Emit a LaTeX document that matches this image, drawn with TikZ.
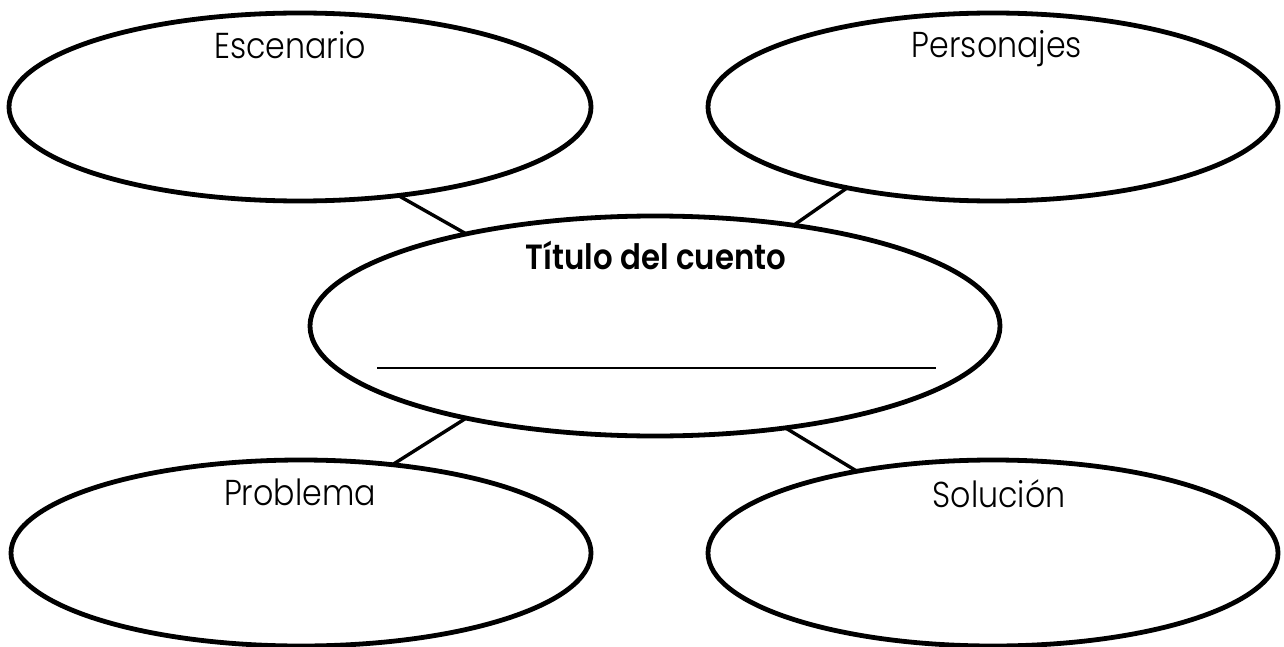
\documentclass[tikz,border=0pt]{standalone}
\usepackage{fontspec}
\IfFontExistsTF{Poppins Light}
  {\IfFontExistsTF{Poppins SemiBold}
     {\setmainfont{Poppins Light}[BoldFont={Poppins SemiBold}]}
     {\setmainfont{Poppins Light}[BoldFont={Poppins Medium}]}}
  {\setmainfont{Poppins}}
\usetikzlibrary{shapes.geometric}
\newcommand\hsq[1]{\scalebox{0.88}[1]{#1}}
\tikzset{
  bubble/.style={draw=black, line width=2.4pt, ellipse, inner sep=0pt, outer sep=0pt},
  link/.style={draw=black, line width=1.7pt},
  lbl/.style={font=\fontsize{18}{20}\selectfont, inner sep=0pt, anchor=base},
  ttl/.style={font=\bfseries\fontsize{17.5}{19}\selectfont, inner sep=0pt, anchor=base},
}
\begin{document}
\begin{tikzpicture}[x=0.5pt, y=-0.5pt]
\useasboundingbox (0,0) rectangle (1284,647);
\node[bubble, minimum width=291pt, minimum height=94pt] (esc) at (300,107) {};
\node[bubble, minimum width=285pt, minimum height=94pt] (per) at (993,107) {};
\node[bubble, minimum width=345pt, minimum height=110pt] (tit) at (655,326) {};
\node[bubble, minimum width=290pt, minimum height=93pt] (pro) at (301,553) {};
\node[bubble, minimum width=285pt, minimum height=93pt] (sol) at (993,553) {};
\node[lbl] (escl) at (290,59) {\hsq{Escenario}};
\node[lbl] (perl) at (997,58) {\hsq{Personajes}};
\node[ttl] (titl) at (656,269) {\hsq{Título del cuento}};
\node[lbl] (prol) at (300,505) {\hsq{Problema}};
\node[lbl] (soll) at (999,507) {\hsq{Solución}};
\coordinate (ul1) at (377,368);
\coordinate (ul2) at (936,368);
\draw[line width=1.1pt] (ul1) -- (ul2);
\draw[link] (esc.-42) -- (tit.154.7);
\draw[link] (per.209.5) -- (tit.36.8);
\draw[link] (pro.44) -- (tit.206.2);
\draw[link] (sol.149.8) -- (tit.-38.1);
\end{tikzpicture}
\end{document}
